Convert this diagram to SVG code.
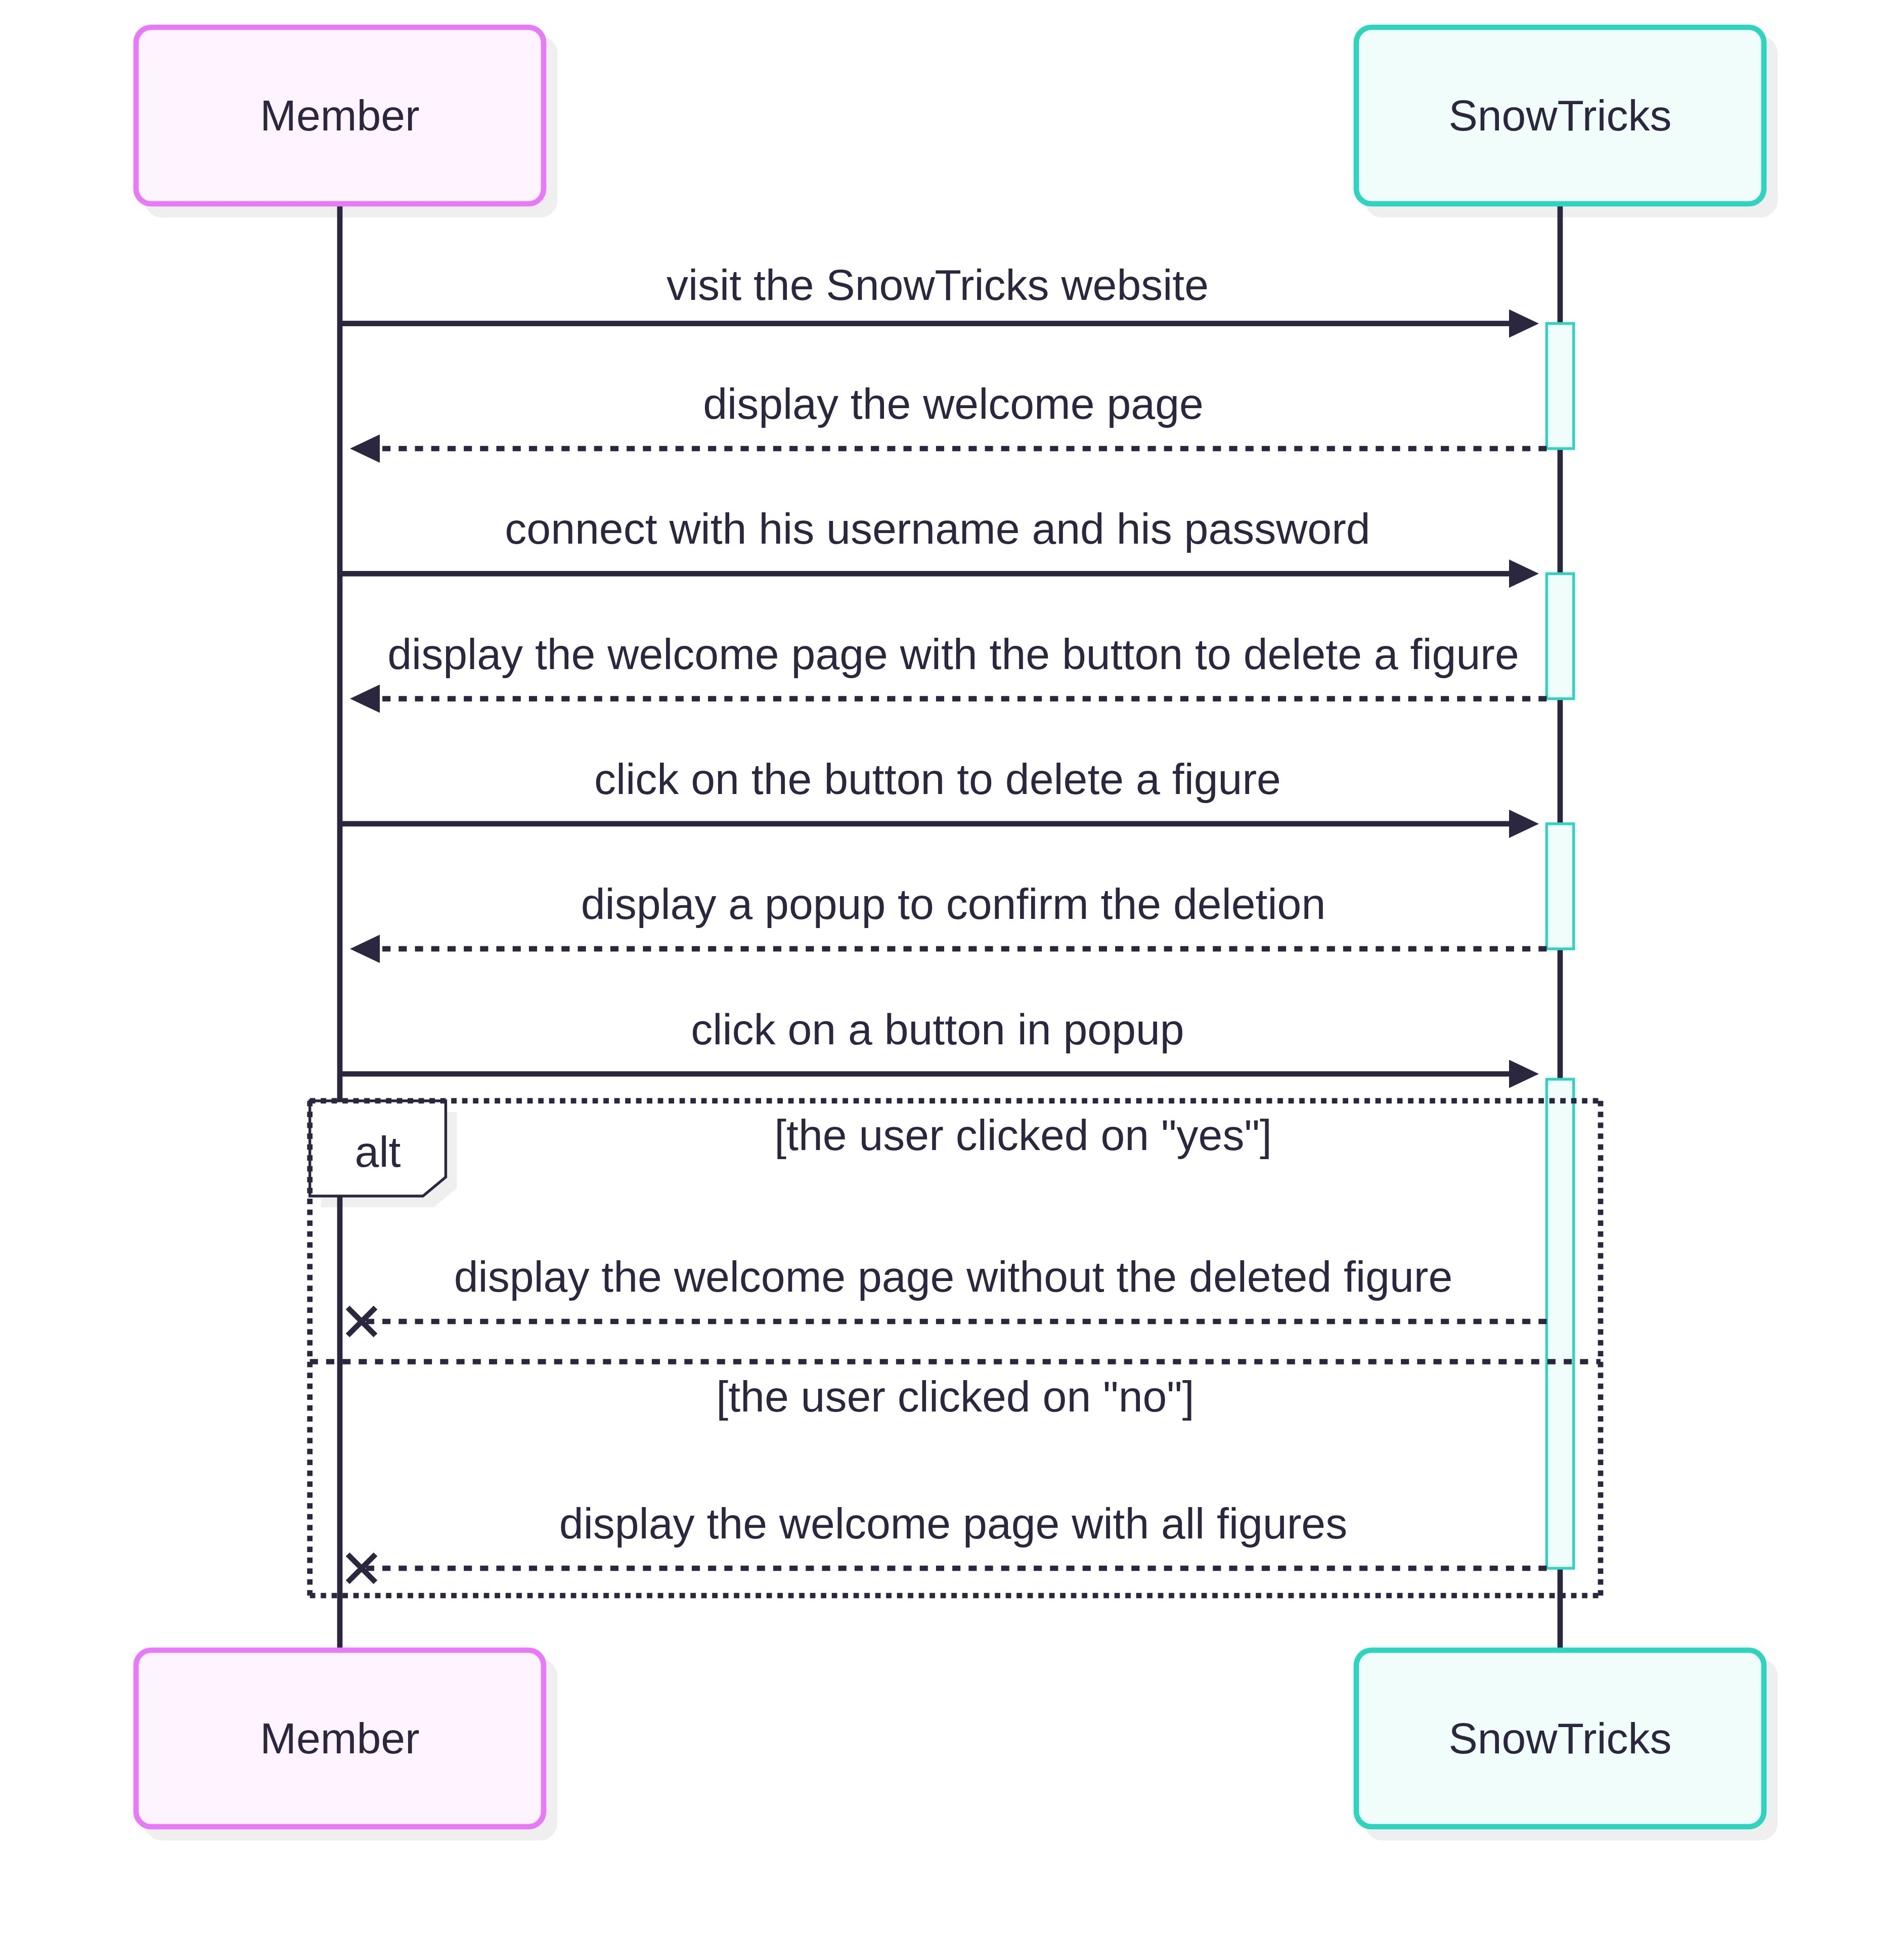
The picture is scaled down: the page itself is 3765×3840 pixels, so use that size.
<svg xmlns="http://www.w3.org/2000/svg" width="3765" height="3840" viewBox="0 0 3765 3840">
<style>
text { font-family: "Liberation Sans", Arial, sans-serif; font-size: 86px; fill: #2a273f; text-anchor: middle; }
.shadow { fill: #efefef; stroke: #efefef; stroke-width: 10.7; }
.member { fill: #fdf4ff; stroke: #e879f9; stroke-width: 10.7; }
.snow { fill: #f0fdfa; stroke: #2dd4bf; stroke-width: 10.7; }
.life { stroke: #2a273f; stroke-width: 10.7; fill: none; }
.act { fill: #f0fdfa; stroke: #2dd4bf; stroke-width: 5.4; }
.msg { stroke: #2a273f; stroke-width: 10.7; fill: none; }
.dash { stroke-dasharray: 16.1 16.1; }
.dot { stroke-dasharray: 10.75 10.75; }
.label { fill: #ffffff; stroke: #2a273f; stroke-width: 5.4; }
.lshadow { fill: #efefef; }
</style>
<defs>
<marker id="arrow" markerUnits="userSpaceOnUse" viewBox="0 0 59 56" markerWidth="59" markerHeight="56" refX="11" refY="28" orient="auto">
<path d="M0,0 L59,28 L0,56 z" fill="#2a273f"/>
</marker>
<marker id="cross" markerUnits="userSpaceOnUse" viewBox="-36 -36 72 72" markerWidth="72" markerHeight="72" refX="0" refY="0" orient="auto">
<path d="M-27.5,-27.5 L27.5,27.5 M27.5,-27.5 L-27.5,27.5" stroke="#2a273f" stroke-width="10.7" fill="none"/>
</marker>
</defs>
<rect width="3765" height="3840" fill="#ffffff"/>

<g id="shadows">
<rect class="shadow" x="291" y="76" width="806" height="349" rx="30"/>
<rect class="shadow" x="2704" y="76" width="806" height="349" rx="30"/>
<rect class="shadow" x="291" y="3285" width="806" height="349" rx="30"/>
<rect class="shadow" x="2704" y="3285" width="806" height="349" rx="30"/>
<polygon class="lshadow" points="634.7,2198.7 903.4,2198.7 903.4,2349.5 858.3,2387 634.7,2387"/>
</g>

<g id="lifelines">
<line class="life" x1="672" y1="403" x2="672" y2="3263"/>
<line class="life" x1="3085" y1="403" x2="3085" y2="3263"/>
</g>

<g id="actor-member-top">
<rect class="member" x="269" y="54" width="806" height="349" rx="30"/>
<text x="672" y="258">Member</text>
</g>
<g id="actor-snowtricks-top">
<rect class="snow" x="2682" y="54" width="806" height="349" rx="30"/>
<text x="3085" y="258">SnowTricks</text>
</g>
<g id="actor-member-bottom">
<rect class="member" x="269" y="3263" width="806" height="349" rx="30"/>
<text x="672" y="3467">Member</text>
</g>
<g id="actor-snowtricks-bottom">
<rect class="snow" x="2682" y="3263" width="806" height="349" rx="30"/>
<text x="3085" y="3467">SnowTricks</text>
</g>

<g id="activations">
<rect class="act" x="3058.4" y="639.7" width="53.4" height="247.3"/>
<rect class="act" x="3058.4" y="1134.3" width="53.4" height="247.3"/>
<rect class="act" x="3058.4" y="1628.9" width="53.4" height="247.3"/>
<rect class="act" x="3058.4" y="2134" width="53.4" height="967"/>
</g>

<g id="connectors">
<path class="msg" d="M672,639.7 H2995" marker-end="url(#arrow)"/>
<path class="msg dash" d="M3058.4,887 H740" marker-end="url(#arrow)"/>
<path class="msg" d="M672,1134.3 H2995" marker-end="url(#arrow)"/>
<path class="msg dash" d="M3058.4,1381.6 H740" marker-end="url(#arrow)"/>
<path class="msg" d="M672,1628.9 H2995" marker-end="url(#arrow)"/>
<path class="msg dash" d="M3058.4,1876.2 H740" marker-end="url(#arrow)"/>
<path class="msg" d="M672,2123.5 H2995" marker-end="url(#arrow)"/>
<path class="msg dash" d="M3058.4,2613 H715" marker-end="url(#cross)"/>
<path class="msg dash" d="M3058.4,3101 H715" marker-end="url(#cross)"/>
</g>

<g id="message-labels">
<text x="1854" y="592.7">visit the SnowTricks website</text>
<text x="1885" y="828">display the welcome page</text>
<text x="1854" y="1075.3">connect with his username and his password</text>
<text x="1885" y="1322.6">display the welcome page with the button to delete a figure</text>
<text x="1854" y="1569.9">click on the button to delete a figure</text>
<text x="1885" y="1817.2">display a popup to confirm the deletion</text>
<text x="1854" y="2064.5">click on a button in popup</text>
<text x="1885" y="2554">display the welcome page without the deleted figure</text>
<text x="1885" y="3042">display the welcome page with all figures</text>
</g>

<g id="alt-frame">
<polygon class="label" points="612.7,2176.7 881.4,2176.7 881.4,2327.5 836.3,2365 612.7,2365"/>
<path class="msg dot" d="M612.7,2176.7 H3165"/>
<path class="msg dot" d="M3165,2176.7 V3155"/>
<path class="msg dot" d="M612.7,3155 H3165"/>
<path class="msg dot" d="M612.7,2176.7 V3155"/>
<path class="msg dash" d="M612.7,2692.5 H3165"/>
<text x="747" y="2306.7">alt</text>
<text x="2023" y="2274">[the user clicked on "yes"]</text>
<text x="1889" y="2791">[the user clicked on "no"]</text>
</g>
</svg>
